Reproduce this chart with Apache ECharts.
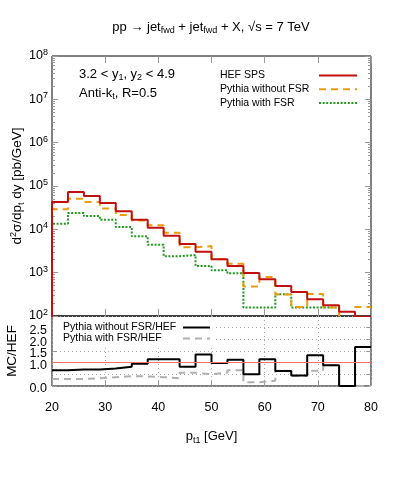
<!DOCTYPE html>
<html>
<head>
<meta charset="utf-8">
<script src="https://cdn.jsdelivr.net/npm/echarts@6/dist/echarts.min.js"></script>
<style>
  html, body { margin: 0; padding: 0; background: #fff; }
  #main { width: 399px; height: 478px; }
</style>
</head>
<body>
<div id="main"></div>
<script>
// bin edges in p_t1 [GeV]
var ptEdges = [20, 23, 26, 29, 32, 35, 38, 41, 44, 47, 50, 53, 56, 59, 62, 65, 68, 71, 74, 77, 80];

// d2sigma/dpt dy [pb/GeV], one value per bin
var hefSps = [42700, 73000, 59000, 40500, 26000, 16700, 10900, 7100, 4600, 3050,
              2030, 1430, 983, 701, 492, 358, 243, 178, 126, 96];
var pythiaNoFsr = [29000, 51000, 42500, 30200, 21500, 16000, 12400, 8300, 3850, 4100,
                   2050, 1600, 480, 790, 315, 161, 321, 158, 0, 161];
var pythiaFsr = [13500, 23800, 20300, 16700, 11300, 6900, 4400, 2400, 2560, 1430,
                 1130, 966, 158, 158, 316, 158, 158, 158, 0, 0];

// ratio panel MC/HEF
var ratioNoFsr = [0.67, 0.71, 0.71, 0.75, 0.82, 0.95, 1.15, 1.15, 0.82, 1.35,
                  0.99, 1.12, 0.50, 1.15, 0.64, 0.45, 1.32, 0.89, 0, 1.67];
var ratioFsr = [0.30, 0.30, 0.33, 0.38, 0.42, 0.41, 0.38, 0.33, 0.57, 0.50,
                0.57, 0.68, 0.16, 0.23, 0.65, 0.43, 0.65, 0.89, 0, 0];

var FONT = 'Liberation Sans, Arial, sans-serif';
var logFloor = 1; // empty bins drop below the log axis

function histSteps(vals, floor) {
  var pts = [];
  if (floor != null) pts.push([ptEdges[0], floor]);
  for (var i = 0; i < vals.length; i++) {
    var v = vals[i];
    if (floor != null && !(v > 0)) v = floor;
    pts.push([ptEdges[i], v]);
  }
  pts.push([ptEdges[vals.length], pts[pts.length - 1][1]]);
  return pts;
}

// log minor tick positions (in exponent units)
var minorLog = [];
for (var n = 2; n < 8; n++) {
  for (var k = 2; k <= 9; k++) minorLog.push(n + Math.log10(k));
}

var richSup = {
  sup: { fontSize: 9, verticalAlign: 'top', lineHeight: 9, fontFamily: FONT, color: '#000' },
  sub: { fontSize: 9, verticalAlign: 'bottom', lineHeight: 9, fontFamily: FONT, color: '#000' }
};
var subOnly = { s: { fontSize: 9, verticalAlign: 'bottom', lineHeight: 9, fontFamily: FONT, color: '#000' } };

function keyText(w, lh) {
  return {
    formatter: function (name) { return '{a|' + name + '}'; },
    textStyle: {
      fontSize: 10.5, fontFamily: FONT, color: '#000',
      rich: { a: { width: w, lineHeight: lh, align: 'left', fontSize: 10.5, fontFamily: FONT, color: '#000' } }
    }
  };
}
var hideSymbol = { color: 'rgba(0,0,0,0)', borderWidth: 0, opacity: 0 };

var myChart = echarts.init(document.getElementById('main'));
var option = {
  animation: false,
  backgroundColor: '#fff',
  textStyle: { fontFamily: FONT },
  grid: [
    { left: 52, top: 56, width: 319, height: 260, show: true, borderColor: '#000', borderWidth: 1,
      outerBoundsMode: 'none', containLabel: false },
    { left: 52, top: 316, width: 319, height: 70, show: true, borderColor: '#000', borderWidth: 1,
      outerBoundsMode: 'none', containLabel: false }
  ],
  graphic: [
    {
      type: 'text', x: 211, y: 27,
      style: {
        text: 'pp \u2192 jet{s|fwd} + jet{s|fwd} + X, \u221As = 7 TeV',
        rich: subOnly, font: '13px ' + FONT, fill: '#000', lineHeight: 17,
        align: 'center', verticalAlign: 'middle', textAlign: 'center', textVerticalAlign: 'middle'
      }
    },
    {
      type: 'text', x: 79, y: 74,
      style: {
        text: '3.2 < y{s|1}, y{s|2} < 4.9',
        rich: subOnly, font: '13px ' + FONT, fill: '#000', lineHeight: 17,
        align: 'left', verticalAlign: 'middle', textAlign: 'left', textVerticalAlign: 'middle'
      }
    },
    {
      type: 'text', x: 79, y: 93,
      style: {
        text: 'Anti-k{s|t}, R=0.5',
        rich: subOnly, font: '13px ' + FONT, fill: '#000', lineHeight: 17,
        align: 'left', verticalAlign: 'middle', textAlign: 'left', textVerticalAlign: 'middle'
      }
    }
  ],
  legend: [
    Object.assign({
      data: ['HEF SPS', 'Pythia without FSR', 'Pythia with FSR'],
      orient: 'vertical', left: 215, top: 65, align: 'right',
      itemWidth: 38, itemHeight: 14, itemGap: 2.5,
      itemStyle: hideSymbol
    }, keyText(94, 14.5)),
    Object.assign({
      data: ['Pythia without FSR/HEF', 'Pythia with FSR/HEF'],
      orient: 'vertical', left: 53, top: 317, align: 'right',
      padding: [5, 4, 1, 10], backgroundColor: '#fff',
      itemWidth: 27, itemHeight: 11.5, itemGap: 0,
      itemStyle: hideSymbol
    }, keyText(115, 12))
  ],
  xAxis: [
    {
      gridIndex: 0, type: 'value', min: 20, max: 80, interval: 10, position: 'bottom',
      axisLine: { show: false }, axisLabel: { show: false }, splitLine: { show: false },
      axisTick: { inside: true, length: 7, lineStyle: { color: '#999' } }
    },
    {
      gridIndex: 0, type: 'value', min: 20, max: 80, interval: 10, position: 'top',
      axisLine: { show: false }, axisLabel: { show: false }, splitLine: { show: false },
      axisTick: { inside: true, length: 7, lineStyle: { color: '#999' } }
    },
    {
      gridIndex: 1, type: 'value', min: 20, max: 80, interval: 10, position: 'bottom',
      axisLine: { show: false },
      axisLabel: { margin: 15, fontSize: 12.5, color: '#000', fontFamily: FONT },
      axisTick: { inside: true, length: 5, lineStyle: { color: '#999' } },
      splitLine: { show: true, lineStyle: { color: '#aaa', type: [1, 3] } },
      name: 'p{s|t1} [GeV]', nameLocation: 'middle', nameGap: 42,
      nameTextStyle: { fontSize: 13, color: '#000', fontFamily: FONT, lineHeight: 17, rich: subOnly }
    }
  ],
  yAxis: [
    {
      gridIndex: 0, type: 'log', logBase: 10, min: 100, max: 1e8, position: 'left',
      axisLine: { show: false }, splitLine: { show: false },
      axisTick: { inside: true, length: 6, lineStyle: { color: '#999' } },
      axisLabel: {
        margin: 4, fontSize: 12.5, color: '#000', fontFamily: FONT, lineHeight: 16,
        formatter: function (v) { return '10{sup|' + Math.round(Math.log10(v)) + '}'; },
        rich: richSup
      },
      name: 'd{sup|2}\u03C3/dp{sub|t} dy [pb/GeV]', nameLocation: 'middle', nameGap: 26,
      nameMoveOverlap: false,
      nameTextStyle: { fontSize: 13.5, color: '#000', fontFamily: FONT, lineHeight: 17, rich: richSup }
    },
    {
      gridIndex: 0, type: 'log', logBase: 10, min: 100, max: 1e8, position: 'right',
      axisLine: { show: false }, splitLine: { show: false }, axisLabel: { show: false },
      axisTick: { inside: true, length: 6, lineStyle: { color: '#999' } }
    },
    {
      gridIndex: 0, type: 'value', min: 2, max: 8, position: 'left',
      axisLine: { show: false }, splitLine: { show: false }, axisLabel: { show: false },
      axisTick: { inside: true, length: 3, customValues: minorLog, lineStyle: { color: '#999' } }
    },
    {
      gridIndex: 0, type: 'value', min: 2, max: 8, position: 'right',
      axisLine: { show: false }, splitLine: { show: false }, axisLabel: { show: false },
      axisTick: { inside: true, length: 3, customValues: minorLog, lineStyle: { color: '#999' } }
    },
    {
      gridIndex: 1, type: 'value', min: 0, max: 3, interval: 0.5, position: 'left',
      axisLine: { show: false },
      axisTick: { inside: true, length: 5, lineStyle: { color: '#999' } },
      splitLine: { show: true, lineStyle: { color: '#aaa', type: [1, 3] } },
      axisLabel: {
        margin: 5, fontSize: 12.5, color: '#000', fontFamily: FONT,
        showMinLabel: true, showMaxLabel: false, hideOverlap: false,
        formatter: function (v) { return '{v|' + v.toFixed(1) + '}'; },
        rich: { v: { fontSize: 12.5, fontFamily: FONT, color: '#000', lineHeight: 13, padding: [6, 0, 0, 0] } }
      },
      name: 'MC/HEF', nameLocation: 'middle', nameGap: 33, nameMoveOverlap: false,
      nameTextStyle: { fontSize: 13.5, color: '#000', fontFamily: FONT }
    },
    {
      gridIndex: 1, type: 'value', min: 0, max: 3, interval: 0.5, position: 'right',
      axisLine: { show: false }, splitLine: { show: false }, axisLabel: { show: false },
      axisTick: { inside: true, length: 5, lineStyle: { color: '#999' } }
    }
  ],
  series: [
    {
      name: 'Pythia with FSR', type: 'line', step: 'end', symbol: 'none',
      xAxisIndex: 0, yAxisIndex: 0, data: histSteps(pythiaFsr, logFloor),
      lineStyle: { color: '#1f9a1f', width: 2, type: [2, 1.6] }, itemStyle: { color: '#1f9a1f' }
    },
    {
      name: 'Pythia without FSR', type: 'line', step: 'end', symbol: 'none',
      xAxisIndex: 0, yAxisIndex: 0, data: histSteps(pythiaNoFsr, logFloor),
      lineStyle: { color: '#eb9d0c', width: 2, type: [7, 5] }, itemStyle: { color: '#eb9d0c' }
    },
    {
      name: 'HEF SPS', type: 'line', step: 'end', symbol: 'none',
      xAxisIndex: 0, yAxisIndex: 0, data: histSteps(hefSps, logFloor),
      lineStyle: { color: '#c0100f', width: 2 }, itemStyle: { color: '#c0100f' }
    },
    {
      name: 'Pythia with FSR/HEF', type: 'line', step: 'end', symbol: 'none',
      xAxisIndex: 2, yAxisIndex: 4, data: histSteps(ratioFsr, null),
      lineStyle: { color: '#b0b0b0', width: 2, type: [7, 5] }, itemStyle: { color: '#b0b0b0' }
    },
    {
      name: 'Pythia without FSR/HEF', type: 'line', step: 'end', symbol: 'none',
      xAxisIndex: 2, yAxisIndex: 4, data: histSteps(ratioNoFsr, null),
      lineStyle: { color: '#000', width: 2 }, itemStyle: { color: '#000' },
      markLine: {
        silent: true, symbol: 'none', label: { show: false },
        lineStyle: { color: '#ff7070', type: 'solid', width: 1 },
        data: [{ yAxis: 1 }]
      }
    }
  ]
};
myChart.setOption(option);

window.addEventListener('resize', function () {
  myChart.resize();
});
</script>
</body>
</html>
